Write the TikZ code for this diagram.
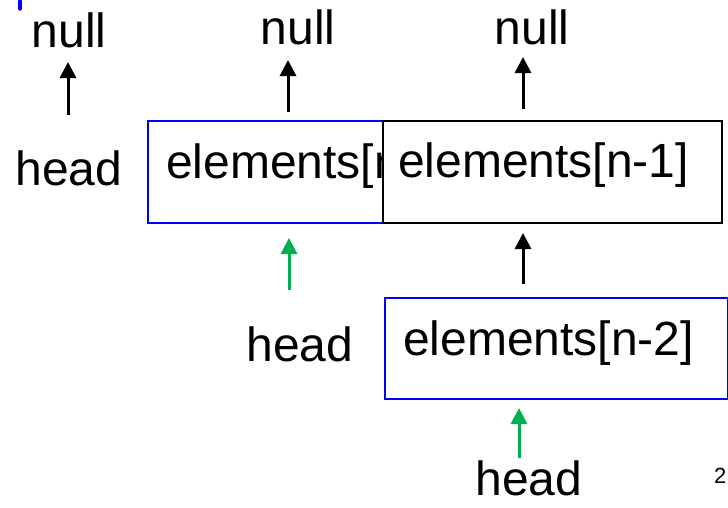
\documentclass[tikz,border=0pt]{standalone}
\usepackage{fontspec}
\setmainfont{Liberation Sans}
\usetikzlibrary{arrows.meta}
\definecolor{pgreen}{RGB}{0,176,80}
\begin{document}
\begin{tikzpicture}[x=1pt,y=-1pt,
  lbl/.style={font=\fontsize{48}{56}\selectfont, inner sep=0pt, anchor=base},
  boxtxt/.style={font=\fontsize{48}{56}\selectfont, inner sep=0pt, anchor=base west},
  cell/.style={line width=1.5pt, fill=white, inner sep=0pt, anchor=north west},
  ptr/.style={line width=3pt, -{Triangle[length=16pt,width=16pt]}},
  gptr/.style={ptr, draw=pgreen, color=pgreen}
]
\useasboundingbox (0,0) rectangle (728,507);

% small blue mark at top-left
\coordinate (m1) at (20,1);
\coordinate (m2) at (20,9);
\draw[blue, line width=3.5pt, line cap=round] (m1) -- (m2);

% top labels
\node[lbl] (null1) at (69,47) {null};
\node[lbl] (null2) at (298,44) {null};
\node[lbl] (null3) at (532,44) {null};
\node[lbl] (head1) at (69,185) {head};
\node[lbl] (head2) at (300,361) {head};
\node[lbl] (head3) at (529,495) {head};

% boxes
\node[cell, draw=blue, minimum width=340pt, minimum height=102pt] (b1) at (147,120) {};
\node[boxtxt] (t1) at (166,178) {elements[n]};
\node[cell, draw=black, minimum width=339pt, minimum height=102pt] (b2) at (382,120) {};
\node[boxtxt] (t2) at (398,177) {elements[n-1]};
\node[cell, draw=blue, minimum width=343pt, minimum height=101pt] (b3) at (384,297) {};
\node[boxtxt] (t3) at (403,355) {elements[n-2]};

% arrow coordinates
\coordinate (a1s) at (68,115); \coordinate (a1e) at (68,62);
\coordinate (a2s) at (288,112); \coordinate (a2e) at (288,60);
\coordinate (a3s) at (523,109); \coordinate (a3e) at (523,57);
\coordinate (a4s) at (523,284); \coordinate (a4e) at (523,233);
\coordinate (g1s) at (289,290); \coordinate (g1e) at (289,238);
\coordinate (g2s) at (519,458); \coordinate (g2e) at (519,408);

\draw[ptr] (a1s) -- (a1e);
\draw[ptr] (a2s) -- (a2e);
\draw[ptr] (a3s) -- (a3e);
\draw[ptr] (a4s) -- (a4e);
\draw[gptr] (g1s) -- (g1e);
\draw[gptr] (g2s) -- (g2e);

% page number
\node[font=\fontsize{22}{26}\selectfont, inner sep=0pt, anchor=base west] (pg) at (714,483) {2};
\end{tikzpicture}
\end{document}
